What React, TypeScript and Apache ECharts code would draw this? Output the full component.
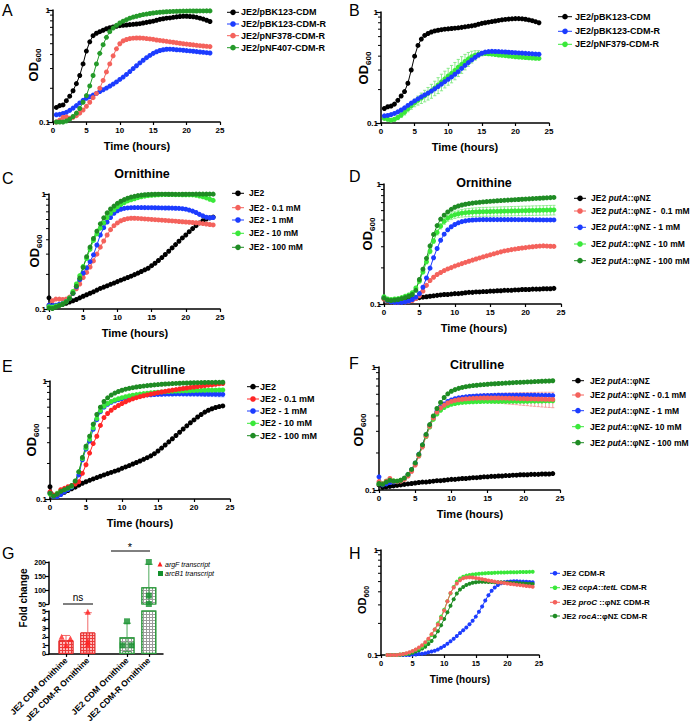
import React, { useEffect, useRef } from "react";
import * as echarts from "echarts";

const FONT = '"Liberation Sans", Arial, Helvetica, sans-serif';
const W = 696;
const H = 725;

// ---------------- time points ----------------
const T_AB = [0.5,1,1.5,2,2.5,3,3.5,4,4.5,5,5.5,6,6.5,7,7.5,8,8.5,9,9.5,10,10.5,11,11.5,12,12.5,13,13.5,14,14.5,15,15.5,16,16.5,17,17.5,18,18.5,19,19.5,20,20.5,21,21.5,22,22.5,23,23.5];
const T_CF = [0,0.5,1,1.5,2,2.5,3,3.5,4,4.5,5,5.5,6,6.5,7,7.5,8,8.5,9,9.5,10,10.5,11,11.5,12,12.5,13,13.5,14,14.5,15,15.5,16,16.5,17,17.5,18,18.5,19,19.5,20,20.5,21,21.5,22,22.5,23,23.5,24];
const T_H = [1,1.5,2,2.5,3,3.5,4,4.5,5,5.5,6,6.5,7,7.5,8,8.5,9,9.5,10,10.5,11,11.5,12,12.5,13,13.5,14,14.5,15,15.5,16,16.5,17,17.5,18,18.5,19,19.5,20,20.5,21,21.5,22,22.5,23,23.5,24];
const MINOR_TICKS = [0.2, 0.3, 0.4, 0.5, 0.6, 0.7, 0.8, 0.9];

// ---------------- panel A ----------------
const A_BK123_CDM = [0.135,0.14,0.142,0.155,0.17,0.19,0.22,0.26,0.33,0.43,
  0.52,0.59,0.62,0.64,0.66,0.68,0.695,0.705,0.715,0.725,
  0.73,0.735,0.74,0.745,0.75,0.755,0.765,0.775,0.785,0.795,
  0.81,0.825,0.835,0.845,0.85,0.86,0.868,0.875,0.88,0.88,
  0.875,0.87,0.86,0.845,0.83,0.81,0.79];
const A_BK123_CDMR = [0.116,0.117,0.119,0.122,0.127,0.133,0.14,0.148,0.156,0.163,
  0.168,0.174,0.18,0.187,0.194,0.201,0.209,0.218,0.228,0.24,
  0.252,0.266,0.282,0.3,0.318,0.337,0.356,0.375,0.393,0.41,
  0.424,0.435,0.442,0.446,0.447,0.445,0.442,0.44,0.437,0.434,
  0.431,0.428,0.425,0.422,0.419,0.416,0.413];
const A_NF378_CDMR = [0.1,0.104,0.11,0.111,0.108,0.11,0.114,0.12,0.128,0.138,
  0.15,0.165,0.18,0.2,0.235,0.28,0.33,0.39,0.45,0.5,
  0.53,0.545,0.555,0.56,0.562,0.562,0.56,0.556,0.552,0.547,
  0.54,0.535,0.53,0.525,0.52,0.515,0.51,0.505,0.5,0.496,
  0.492,0.488,0.484,0.48,0.477,0.474,0.471];
const A_NF407_CDMR = [0.1,0.1,0.1,0.102,0.106,0.112,0.12,0.132,0.15,0.172,
  0.21,0.26,0.33,0.41,0.49,0.57,0.64,0.69,0.73,0.765,
  0.795,0.82,0.845,0.865,0.88,0.895,0.91,0.92,0.93,0.94,
  0.948,0.955,0.96,0.965,0.968,0.971,0.973,0.975,0.977,0.978,
  0.979,0.98,0.98,0.981,0.981,0.982,0.982];

// ---------------- panel B ----------------
const B_BK123_CDM = [0.135,0.14,0.142,0.148,0.16,0.175,0.192,0.228,0.3,0.4,
  0.5,0.57,0.615,0.64,0.66,0.675,0.685,0.693,0.7,0.705,
  0.71,0.715,0.72,0.727,0.735,0.743,0.75,0.76,0.775,0.79,
  0.8,0.81,0.82,0.83,0.84,0.85,0.857,0.863,0.868,0.872,
  0.872,0.868,0.86,0.848,0.835,0.818,0.8];
const B_BK123_CDMR = [0.116,0.117,0.119,0.122,0.126,0.131,0.137,0.144,0.151,0.158,
  0.165,0.172,0.179,0.186,0.194,0.203,0.213,0.224,0.236,0.248,
  0.26,0.275,0.29,0.31,0.33,0.35,0.37,0.39,0.41,0.425,
  0.435,0.44,0.442,0.441,0.44,0.438,0.436,0.434,0.432,0.43,
  0.428,0.426,0.424,0.422,0.42,0.418,0.416];
const B_NF379_CDMR = [0.11,0.108,0.106,0.108,0.112,0.118,0.125,0.134,0.143,0.152,
  0.16,0.168,0.176,0.185,0.195,0.207,0.22,0.235,0.25,0.265,
  0.28,0.298,0.318,0.338,0.358,0.378,0.395,0.408,0.418,0.422,
  0.422,0.42,0.417,0.414,0.41,0.407,0.404,0.401,0.398,0.395,
  0.393,0.391,0.389,0.387,0.385,0.383,0.382];
const B_NF379_SD = [0.003,0.003,0.003,0.004,0.005,0.006,0.007,0.008,0.01,0.012,
  0.015,0.018,0.021,0.024,0.028,0.031,0.036,0.04,0.043,0.046,
  0.05,0.053,0.056,0.058,0.057,0.054,0.048,0.04,0.03,0.02,
  0.013,0.01,0.009,0.008,0.008,0.008,0.008,0.008,0.008,0.008,
  0.008,0.008,0.008,0.008,0.008,0.008,0.008];

// ---------------- panel C (ornithine, JE2) ----------------
const C_JE2 = [0.125,0.107,0.106,0.108,0.11,0.112,0.115,0.118,0.121,0.125,
  0.129,0.133,0.137,0.141,0.146,0.151,0.155,0.159,0.164,0.168,
  0.173,0.178,0.183,0.188,0.193,0.199,0.205,0.212,0.219,0.226,
  0.238,0.25,0.264,0.28,0.298,0.318,0.34,0.363,0.388,0.415,
  0.44,0.47,0.5,0.53,0.56,0.585,0.605,0.62,0.63];
const C_01 = [0.108,0.118,0.122,0.122,0.121,0.122,0.127,0.137,0.15,0.165,
  0.188,0.208,0.232,0.262,0.3,0.345,0.39,0.44,0.49,0.53,
  0.56,0.585,0.6,0.61,0.615,0.615,0.613,0.61,0.607,0.604,
  0.601,0.598,0.595,0.592,0.589,0.586,0.583,0.58,0.577,0.574,
  0.571,0.568,0.565,0.562,0.558,0.553,0.548,0.543,0.538];
const C_1 = [0.108,0.107,0.108,0.11,0.112,0.116,0.124,0.137,0.156,0.18,
  0.205,0.228,0.258,0.296,0.36,0.44,0.51,0.57,0.625,0.68,
  0.715,0.737,0.75,0.757,0.76,0.762,0.762,0.762,0.761,0.76,
  0.76,0.759,0.758,0.757,0.756,0.755,0.754,0.752,0.75,0.745,
  0.738,0.725,0.71,0.69,0.665,0.645,0.628,0.622,0.625];
const C_10 = [0.105,0.104,0.106,0.108,0.111,0.116,0.125,0.142,0.165,0.195,
  0.235,0.275,0.33,0.395,0.45,0.505,0.56,0.625,0.68,0.73,
  0.775,0.81,0.84,0.87,0.89,0.91,0.93,0.945,0.958,0.968,
  0.975,0.98,0.985,0.988,0.99,0.99,0.99,0.988,0.986,0.985,
  0.985,0.985,0.983,0.975,0.96,0.945,0.925,0.9,0.88];
const C_100 = [0.102,0.101,0.104,0.107,0.11,0.115,0.123,0.137,0.158,0.185,
  0.23,0.285,0.345,0.41,0.475,0.55,0.62,0.685,0.74,0.785,
  0.83,0.865,0.895,0.92,0.94,0.955,0.968,0.978,0.985,0.99,
  0.993,0.995,0.996,0.996,0.996,0.995,0.995,0.994,0.994,0.995,
  0.995,0.996,0.996,0.997,0.997,0.997,0.997,0.997,0.997];

// ---------------- panel D (ornithine, putA) ----------------
const D_PUTA = [0.111,0.106,0.104,0.105,0.106,0.107,0.108,0.109,0.11,0.111,
  0.113,0.114,0.115,0.116,0.117,0.118,0.119,0.12,0.12,0.121,
  0.122,0.122,0.123,0.124,0.125,0.125,0.126,0.126,0.127,0.127,
  0.128,0.128,0.129,0.129,0.13,0.13,0.13,0.131,0.131,0.132,
  0.132,0.132,0.133,0.133,0.133,0.134,0.134,0.134,0.135];
const D_01 = [0.11,0.106,0.104,0.103,0.103,0.104,0.104,0.105,0.107,0.111,
  0.117,0.128,0.143,0.157,0.167,0.176,0.183,0.19,0.196,0.201,
  0.207,0.212,0.217,0.222,0.227,0.232,0.237,0.242,0.247,0.252,
  0.257,0.262,0.267,0.272,0.277,0.28,0.284,0.287,0.29,0.293,
  0.295,0.298,0.3,0.302,0.304,0.305,0.304,0.303,0.302];
const D_1 = [0.114,0.107,0.104,0.103,0.103,0.103,0.104,0.106,0.109,0.114,
  0.122,0.138,0.165,0.199,0.243,0.29,0.34,0.382,0.415,0.44,
  0.46,0.475,0.486,0.493,0.498,0.501,0.503,0.504,0.505,0.505,
  0.505,0.505,0.505,0.505,0.505,0.505,0.505,0.505,0.504,0.504,
  0.504,0.504,0.503,0.503,0.503,0.502,0.502,0.502,0.502];
const D_10 = [0.115,0.11,0.109,0.11,0.111,0.113,0.116,0.119,0.124,0.136,
  0.155,0.185,0.225,0.275,0.335,0.395,0.445,0.488,0.52,0.54,
  0.555,0.565,0.572,0.577,0.58,0.583,0.585,0.587,0.588,0.589,
  0.59,0.591,0.592,0.593,0.594,0.595,0.596,0.597,0.598,0.599,
  0.6,0.601,0.602,0.603,0.604,0.605,0.606,0.607,0.608];
const D_10_SD = [0.002,0.002,0.002,0.002,0.002,0.002,0.002,0.003,0.003,0.004,
  0.005,0.007,0.009,0.012,0.015,0.019,0.023,0.027,0.031,0.035,
  0.038,0.04,0.042,0.044,0.046,0.047,0.048,0.049,0.05,0.05,
  0.05,0.051,0.051,0.052,0.052,0.052,0.053,0.053,0.053,0.054,
  0.054,0.054,0.055,0.055,0.055,0.055,0.056,0.056,0.056];
const D_100 = [0.112,0.108,0.107,0.108,0.109,0.111,0.113,0.116,0.12,0.13,
  0.16,0.195,0.24,0.305,0.38,0.45,0.51,0.55,0.585,0.615,
  0.64,0.656,0.668,0.678,0.686,0.693,0.699,0.704,0.709,0.713,
  0.717,0.721,0.725,0.728,0.731,0.734,0.737,0.74,0.743,0.746,
  0.749,0.752,0.755,0.758,0.761,0.764,0.767,0.77,0.773];

// ---------------- panel E (citrulline, JE2) ----------------
const E_JE2 = [0.127,0.106,0.107,0.11,0.114,0.118,0.122,0.126,0.131,0.136,
  0.14,0.144,0.148,0.152,0.156,0.16,0.164,0.168,0.172,0.176,
  0.182,0.187,0.192,0.198,0.204,0.21,0.217,0.224,0.232,0.242,
  0.255,0.27,0.287,0.305,0.324,0.345,0.368,0.392,0.417,0.443,
  0.468,0.495,0.52,0.545,0.565,0.582,0.596,0.607,0.615];
const E_01 = [0.115,0.108,0.11,0.12,0.123,0.127,0.13,0.134,0.14,0.165,
  0.195,0.245,0.295,0.34,0.42,0.49,0.53,0.565,0.595,0.62,
  0.645,0.667,0.688,0.706,0.722,0.737,0.75,0.762,0.774,0.785,
  0.796,0.807,0.817,0.827,0.837,0.846,0.855,0.864,0.873,0.882,
  0.89,0.898,0.906,0.914,0.922,0.93,0.938,0.946,0.953];
const E_1 = [0.113,0.105,0.105,0.109,0.115,0.12,0.126,0.136,0.16,0.215,
  0.265,0.31,0.39,0.47,0.55,0.6,0.635,0.66,0.68,0.695,
  0.71,0.722,0.732,0.74,0.747,0.753,0.758,0.762,0.765,0.768,
  0.77,0.772,0.774,0.775,0.776,0.777,0.778,0.778,0.778,0.778,
  0.778,0.778,0.777,0.776,0.775,0.774,0.773,0.772,0.771];
const E_1_SD = [0.003,0.003,0.003,0.003,0.003,0.003,0.003,0.004,0.005,0.006,
  0.007,0.008,0.01,0.011,0.012,0.012,0.012,0.012,0.012,0.012,
  0.012,0.012,0.012,0.012,0.013,0.013,0.013,0.014,0.014,0.015,
  0.016,0.017,0.018,0.02,0.022,0.024,0.026,0.028,0.03,0.031,
  0.032,0.033,0.034,0.035,0.035,0.036,0.036,0.037,0.037];
const E_10 = [0.11,0.108,0.112,0.118,0.12,0.124,0.128,0.14,0.17,0.22,
  0.27,0.32,0.4,0.48,0.56,0.61,0.645,0.67,0.69,0.707,
  0.722,0.736,0.748,0.758,0.767,0.775,0.782,0.788,0.794,0.799,
  0.804,0.808,0.812,0.815,0.818,0.821,0.823,0.825,0.827,0.829,
  0.831,0.833,0.834,0.835,0.836,0.837,0.838,0.839,0.84];
const E_100 = [0.112,0.106,0.11,0.116,0.12,0.124,0.13,0.142,0.17,0.225,
  0.28,0.34,0.43,0.52,0.6,0.67,0.72,0.76,0.79,0.815,
  0.835,0.852,0.866,0.878,0.889,0.898,0.906,0.914,0.921,0.927,
  0.933,0.938,0.943,0.947,0.951,0.954,0.957,0.96,0.962,0.964,
  0.966,0.968,0.97,0.971,0.972,0.973,0.974,0.975,0.976];

// ---------------- panel F (citrulline, putA) ----------------
const F_PUTA = [0.11,0.105,0.106,0.107,0.108,0.109,0.11,0.111,0.112,0.113,
  0.114,0.115,0.116,0.116,0.117,0.118,0.119,0.119,0.12,0.121,
  0.122,0.122,0.123,0.124,0.124,0.125,0.126,0.126,0.127,0.128,
  0.128,0.129,0.129,0.13,0.13,0.131,0.131,0.132,0.132,0.133,
  0.133,0.133,0.134,0.134,0.134,0.135,0.135,0.135,0.136];
const F_01 = [0.117,0.112,0.118,0.124,0.118,0.117,0.118,0.122,0.13,0.142,
  0.16,0.19,0.225,0.275,0.33,0.385,0.43,0.465,0.49,0.51,
  0.525,0.535,0.542,0.547,0.551,0.554,0.556,0.558,0.559,0.56,
  0.56,0.56,0.56,0.56,0.559,0.558,0.557,0.556,0.555,0.554,
  0.553,0.552,0.551,0.55,0.549,0.548,0.547,0.546,0.545];
const F_01_SD = [0.003,0.003,0.003,0.003,0.003,0.003,0.003,0.003,0.004,0.005,
  0.006,0.008,0.01,0.012,0.014,0.016,0.018,0.02,0.022,0.024,
  0.026,0.028,0.03,0.033,0.035,0.036,0.038,0.041,0.042,0.044,
  0.046,0.047,0.05,0.052,0.053,0.056,0.058,0.06,0.061,0.064,
  0.066,0.067,0.07,0.071,0.073,0.075,0.076,0.077,0.078];
const F_1 = [0.128,0.11,0.112,0.115,0.116,0.117,0.119,0.124,0.133,0.146,
  0.165,0.195,0.232,0.28,0.335,0.39,0.435,0.47,0.5,0.525,
  0.54,0.552,0.561,0.567,0.572,0.576,0.579,0.581,0.583,0.585,
  0.586,0.587,0.588,0.589,0.59,0.59,0.59,0.59,0.59,0.59,
  0.59,0.59,0.589,0.589,0.588,0.588,0.587,0.587,0.586];
const F_10 = [0.112,0.113,0.118,0.121,0.119,0.118,0.12,0.124,0.132,0.145,
  0.163,0.19,0.226,0.272,0.325,0.375,0.415,0.445,0.468,0.485,
  0.497,0.505,0.511,0.515,0.518,0.52,0.522,0.523,0.524,0.525,
  0.525,0.525,0.525,0.525,0.525,0.525,0.525,0.526,0.526,0.526,
  0.527,0.527,0.528,0.528,0.529,0.529,0.53,0.53,0.531];
const F_100 = [0.113,0.111,0.116,0.12,0.118,0.118,0.12,0.125,0.134,0.147,
  0.166,0.195,0.233,0.283,0.34,0.4,0.46,0.515,0.565,0.605,
  0.635,0.655,0.67,0.682,0.692,0.7,0.706,0.711,0.716,0.72,
  0.724,0.728,0.731,0.734,0.737,0.74,0.743,0.746,0.749,0.751,
  0.753,0.756,0.758,0.761,0.763,0.766,0.768,0.77,0.773];

// ---------------- panel H ----------------
const H_JE2 = [0.1,0.1,0.1,0.1,0.1,0.1,0.1,0.1,0.101,0.101,
  0.102,0.103,0.104,0.106,0.108,0.11,0.113,0.117,0.122,0.128,
  0.135,0.143,0.152,0.162,0.172,0.183,0.196,0.212,0.232,0.258,
  0.29,0.33,0.37,0.41,0.44,0.465,0.482,0.493,0.499,0.502,
  0.503,0.503,0.502,0.5,0.498,0.495,0.492];
const H_CCPA = [0.1,0.1,0.1,0.1,0.101,0.102,0.103,0.105,0.108,0.112,
  0.115,0.12,0.128,0.14,0.155,0.175,0.2,0.232,0.27,0.325,
  0.385,0.445,0.5,0.535,0.557,0.57,0.578,0.584,0.589,0.593,
  0.597,0.6,0.603,0.605,0.607,0.609,0.61,0.611,0.612,0.613,
  0.614,0.615,0.616,0.617,0.618,0.619,0.62];
const H_PROC = [0.1,0.1,0.1,0.1,0.101,0.102,0.104,0.106,0.109,0.113,
  0.118,0.124,0.132,0.143,0.158,0.175,0.195,0.225,0.265,0.325,
  0.39,0.44,0.48,0.515,0.537,0.547,0.55,0.548,0.542,0.535,
  0.528,0.52,0.513,0.506,0.5,0.494,0.489,0.484,0.479,0.475,
  0.471,0.467,0.463,0.459,0.455,0.451,0.447];
const H_ROCA = [0.1,0.1,0.1,0.1,0.1,0.101,0.102,0.103,0.105,0.108,
  0.111,0.115,0.12,0.127,0.136,0.15,0.168,0.192,0.22,0.255,
  0.295,0.34,0.385,0.42,0.445,0.465,0.478,0.488,0.494,0.497,
  0.498,0.497,0.496,0.495,0.494,0.493,0.492,0.49,0.489,0.487,
  0.486,0.484,0.482,0.48,0.478,0.476,0.474];

// ---------------- panel G (qPCR fold change) ----------------
const G_CATEGORIES = ["JE2 CDM Ornithine", "JE2 CDM-R Ornithine", "JE2 CDM Ornithine", "JE2 CDM-R Ornithine"];
const G_MEAN = [1.6, 2.5, 1.93, 110];
const G_SD = [0.55, 2.3, 1.65, 82];
const G_POINTS = [[2.0, 1.8, 1.0], [4.9, 1.5, 1.1], [3.8, 1.0, 1.0], [200, 80, 50]];
const G_GENES = ["argF transcript", "arcB1 transcript"];

// ---------------- colours ----------------
const BLACK = "#000000";
const BLUE = "#1c3cff";
const SALMON = "#f4625c";
const RED = "#ff2626";
const LIME = "#3ae83a";
const DKGREEN = "#1f8c24";
const AGREEN = "#259a2a";

// ---------------- layout (positions only) ----------------
type Curve = { label: string; color: string; values: number[]; sd?: number[]; sdColor?: string };
type Panel = {
  letter: string; lx: number; ly: number;
  grid: { left: number; top: number; width: number; height: number };
  t: number[]; curves: Curve[]; sym: number; tickFont: number;
  title?: { text: string; x: number; y: number };
  time: { x: number; y: number; size: number };
  od: { x: number; y: number; size: number; sub: number };
  legend: { mx: number; tx: number; ys: number[]; size: number; half: number };
};

const PANELS: Panel[] = [
  {
    letter: "A", lx: 2, ly: 2, grid: { left: 53, top: 10, width: 167, height: 112 }, t: T_AB, sym: 5, tickFont: 8,
    curves: [
      { label: "JE2/pBK123-CDM", color: BLACK, values: A_BK123_CDM },
      { label: "JE2/pBK123-CDM-R", color: BLUE, values: A_BK123_CDMR },
      { label: "JE2/pNF378-CDM-R", color: SALMON, values: A_NF378_CDMR },
      { label: "JE2/pNF407-CDM-R", color: AGREEN, values: A_NF407_CDMR },
    ],
    time: { x: 137, y: 146, size: 11 }, od: { x: 33, y: 65, size: 13, sub: 8 },
    legend: { mx: 233, tx: 241, ys: [12.3, 24, 35.7, 47.7], size: 9, half: 6 },
  },
  {
    letter: "B", lx: 349, ly: 2, grid: { left: 381, top: 12, width: 168, height: 111 }, t: T_AB, sym: 5, tickFont: 8,
    curves: [
      { label: "JE2/pBK123-CDM", color: BLACK, values: B_BK123_CDM },
      { label: "JE2/pNF379-CDM-R", color: LIME, values: B_NF379_CDMR, sd: B_NF379_SD, sdColor: "#7fe87f" },
      { label: "JE2/pBK123-CDM-R", color: BLUE, values: B_BK123_CDMR },
    ],
    time: { x: 465, y: 147, size: 11 }, od: { x: 363, y: 68, size: 13, sub: 8 },
    legend: { mx: 565, tx: 575, ys: [16.7, 31.3, 44.3], size: 9, half: 7 },
  },
  {
    letter: "C", lx: 2, ly: 170, grid: { left: 49, top: 194, width: 171, height: 115 }, t: T_CF, sym: 5, tickFont: 8,
    title: { text: "Ornithine", x: 142, y: 174 },
    curves: [
      { label: "JE2", color: BLACK, values: C_JE2 },
      { label: "JE2 - 0.1 mM", color: SALMON, values: C_01 },
      { label: "JE2 - 1 mM", color: BLUE, values: C_1 },
      { label: "JE2 - 10 mM", color: LIME, values: C_10 },
      { label: "JE2 - 100 mM", color: DKGREEN, values: C_100 },
    ],
    time: { x: 135, y: 333, size: 11 }, od: { x: 34, y: 251, size: 13, sub: 8 },
    legend: { mx: 238, tx: 249, ys: [193.3, 207.7, 220, 233.3, 247.3], size: 8.5, half: 6 },
  },
  {
    letter: "D", lx: 349, ly: 168, grid: { left: 384, top: 184, width: 177, height: 120 }, t: T_CF, sym: 5, tickFont: 8,
    title: { text: "Ornithine", x: 484, y: 182.5 },
    curves: [
      { label: "JE2 *putA*::φNΣ", color: BLACK, values: D_PUTA },
      { label: "JE2 *putA*::φNΣ -  0.1 mM", color: SALMON, values: D_01 },
      { label: "JE2 *putA*::φNΣ - 1 mM", color: BLUE, values: D_1 },
      { label: "JE2 *putA*::φNΣ - 10 mM", color: LIME, values: D_10, sd: D_10_SD, sdColor: "#86ec86" },
      { label: "JE2 *putA*::φNΣ - 100 mM", color: DKGREEN, values: D_100 },
    ],
    time: { x: 474, y: 328, size: 11 }, od: { x: 367, y: 234, size: 13, sub: 8 },
    legend: { mx: 580, tx: 591, ys: [198.3, 211, 227.3, 244, 260.7], size: 8.5, half: 6 },
  },
  {
    letter: "E", lx: 2, ly: 358, grid: { left: 50, top: 381, width: 180, height: 118 }, t: T_CF, sym: 5, tickFont: 8,
    title: { text: "Citrulline", x: 158, y: 370 },
    curves: [
      { label: "JE2", color: BLACK, values: E_JE2 },
      { label: "JE2 - 1 mM", color: BLUE, values: E_1, sd: E_1_SD, sdColor: "#8aa0ff" },
      { label: "JE2 - 10 mM", color: LIME, values: E_10 },
      { label: "JE2 - 0.1 mM", color: RED, values: E_01 },
      { label: "JE2 - 100 mM", color: DKGREEN, values: E_100 },
    ],
    time: { x: 140, y: 523, size: 11 }, od: { x: 31, y: 440, size: 13, sub: 8 },
    legend: { mx: 253, tx: 260, ys: [386.7, 399, 411, 423.3, 435.7], size: 9, half: 6 },
  },
  {
    letter: "F", lx: 349, ly: 355, grid: { left: 379, top: 367, width: 181, height: 123 }, t: T_CF, sym: 5, tickFont: 8,
    title: { text: "Citrulline", x: 477, y: 365 },
    curves: [
      { label: "JE2 *putA*::φNΣ", color: BLACK, values: F_PUTA },
      { label: "JE2 *putA*::φNΣ- 10 mM", color: LIME, values: F_10 },
      { label: "JE2 *putA*::φNΣ - 1 mM", color: BLUE, values: F_1 },
      { label: "JE2 *putA*::φNΣ - 0.1 mM", color: SALMON, values: F_01, sd: F_01_SD, sdColor: "#f59a9a" },
      { label: "JE2 *putA*::φNΣ - 100 mM", color: DKGREEN, values: F_100 },
    ],
    time: { x: 470, y: 514, size: 11 }, od: { x: 358, y: 430, size: 13, sub: 8 },
    legend: { mx: 578, tx: 590, ys: [380.7, 395, 410.7, 426.7, 442.7], size: 8.5, half: 6 },
  },
  {
    letter: "H", lx: 349, ly: 545, grid: { left: 381, top: 550, width: 158, height: 105 }, t: T_H, sym: 4, tickFont: 7.5,
    curves: [
      { label: "JE2 CDM-R", color: BLUE, values: H_JE2 },
      { label: "JE2 *rocA*::φNΣ CDM-R", color: DKGREEN, values: H_ROCA },
      { label: "JE2 *ccpA*::*tetL* CDM-R", color: LIME, values: H_CCPA },
      { label: "JE2 *proC* ::φNΣ CDM-R", color: SALMON, values: H_PROC },
    ],
    time: { x: 460, y: 679, size: 10 }, od: { x: 362, y: 600, size: 11, sub: 7 },
    legend: { mx: 555, tx: 562, ys: [573.3, 587.7, 602.3, 616], size: 8, half: 5 },
  },
];
// legend order differs from drawing order for some panels
const LEGEND_ORDER: Record<string, string[]> = {
  B: ["JE2/pBK123-CDM", "JE2/pBK123-CDM-R", "JE2/pNF379-CDM-R"],
  E: ["JE2", "JE2 - 0.1 mM", "JE2 - 1 mM", "JE2 - 10 mM", "JE2 - 100 mM"],
  F: ["JE2 *putA*::φNΣ", "JE2 *putA*::φNΣ - 0.1 mM", "JE2 *putA*::φNΣ - 1 mM", "JE2 *putA*::φNΣ- 10 mM", "JE2 *putA*::φNΣ - 100 mM"],
  H: ["JE2 CDM-R", "JE2 *ccpA*::*tetL* CDM-R", "JE2 *proC* ::φNΣ CDM-R", "JE2 *rocA*::φNΣ CDM-R"],
};

// G layout
const G_POS = [0, 1, 2.8, 3.8];
const G_JITTER = [[-0.2, 0.2, 0], [0, 0, 0], [0, -0.2, 0.2], [0, 0, 0]];
const G_XMIN = -0.78;
const G_XMAX = 4.45;

function richLabel(label: string) {
  return label
    .split("*")
    .map((s, i) => (s ? `{${i % 2 ? "i" : "n"}|${s}}` : ""))
    .join("");
}

function textEl(x: number, y: number, text: string, style: any, extra: any = {}) {
  return {
    type: "text", x, y, silent: true, ...extra,
    style: { text, fill: "#000", fontFamily: FONT, align: "center", verticalAlign: "middle", ...style },
  };
}

function odLabel(x: number, y: number, size: number, sub: number) {
  return textEl(x, y, "{a|OD}{b|600}", {
    rich: {
      a: { fontSize: size, fontWeight: "bold", fontFamily: FONT, lineHeight: size + 5 },
      b: { fontSize: sub, fontWeight: "bold", fontFamily: FONT, lineHeight: sub + 1, verticalAlign: "bottom" },
    },
  }, { rotation: Math.PI / 2 });
}

function minorTickRender(params: any, api: any) {
  const p = api.coord([0, api.value(1)]);
  return { type: "line", shape: { x1: p[0] - 3, y1: p[1], x2: p[0], y2: p[1] }, style: { stroke: "#000", lineWidth: 1 } };
}

function errorRender(color: string, cap: number, floor: number) {
  return (params: any, api: any) => {
    const x = api.value(0), v = api.value(1), sd = api.value(2);
    const hi = api.coord([x, v + sd]);
    const lo = api.coord([x, Math.max(v - sd, floor)]);
    const st = { stroke: color, lineWidth: 0.9 };
    return {
      type: "group",
      children: [
        { type: "line", shape: { x1: hi[0], y1: hi[1], x2: lo[0], y2: lo[1] }, style: st },
        { type: "line", shape: { x1: hi[0] - cap, y1: hi[1], x2: hi[0] + cap, y2: hi[1] }, style: st },
        { type: "line", shape: { x1: lo[0] - cap, y1: lo[1], x2: lo[0] + cap, y2: lo[1] }, style: st },
      ],
    };
  };
}

const AXIS_LINE = { show: true, onZero: false, lineStyle: { color: "#000", width: 1.5 } };

function buildOption() {
  const grid: any[] = [];
  const xAxis: any[] = [];
  const yAxis: any[] = [];
  const series: any[] = [];
  const graphic: any[] = [];

  PANELS.forEach((p, i) => {
    grid.push({ ...p.grid });
    xAxis.push({
      type: "value", gridIndex: i, min: 0, max: 25, interval: 5,
      axisLine: AXIS_LINE,
      axisTick: { show: true, length: 3, lineStyle: { color: "#000", width: 1.2 } },
      axisLabel: { fontSize: p.tickFont, fontWeight: "bold", color: "#000", fontFamily: FONT, margin: 4 },
      splitLine: { show: false },
    });
    yAxis.push({
      type: "log", logBase: 10, gridIndex: i, min: 0.1, max: 1,
      axisLine: AXIS_LINE,
      axisTick: { show: true, length: 5, lineStyle: { color: "#000", width: 1.2 } },
      axisLabel: {
        fontSize: p.tickFont, fontWeight: "bold", color: "#000", fontFamily: FONT, margin: 3,
        formatter: (v: number) => (v < 0.5 ? "0.1" : "1"),
      },
      splitLine: { show: false },
    });
    series.push({
      type: "custom", xAxisIndex: i, yAxisIndex: i, silent: true, clip: false, z: 4,
      data: MINOR_TICKS.map((v) => [0, v]), renderItem: minorTickRender,
    });
    p.curves.forEach((c) => {
      if (c.sd) {
        const sd = c.sd;
        series.push({
          type: "custom", xAxisIndex: i, yAxisIndex: i, silent: true, clip: true, z: 1,
          data: c.values.map((v, k) => [p.t[k], v, sd[k]]),
          renderItem: errorRender(c.sdColor || c.color, 1.6, 0.1),
        });
      }
      series.push({
        type: "line", name: c.label.replace(/\*/g, ""), xAxisIndex: i, yAxisIndex: i,
        data: c.values.map((v, k) => [p.t[k], v]),
        symbol: "circle", symbolSize: p.sym, showSymbol: true, showAllSymbol: true, clip: false,
        lineStyle: { color: c.color, width: 1 }, itemStyle: { color: c.color, borderWidth: 0 },
        z: 2, silent: true,
      });
    });

    // letter, title, axis titles
    graphic.push(textEl(p.lx, p.ly, p.letter, { fontSize: 16, align: "left", verticalAlign: "top" }));
    if (p.title) graphic.push(textEl(p.title.x, p.title.y, p.title.text, { fontSize: 12.5, fontWeight: "bold" }));
    graphic.push(textEl(p.time.x, p.time.y, "Time (hours)", { fontSize: p.time.size, fontWeight: "bold" }));
    graphic.push(odLabel(p.od.x, p.od.y, p.od.size, p.od.sub));

    // legend
    const order = LEGEND_ORDER[p.letter] || p.curves.map((c) => c.label);
    order.forEach((lab, k) => {
      const c = p.curves.find((cc) => cc.label === lab)!;
      const y = p.legend.ys[k];
      const L = p.legend;
      graphic.push({ type: "line", silent: true, shape: { x1: L.mx - L.half, y1: y, x2: L.mx + L.half, y2: y }, style: { stroke: c.color, lineWidth: 1 } });
      graphic.push({ type: "circle", silent: true, shape: { cx: L.mx, cy: y, r: p.sym / 2 + 0.3 }, style: { fill: c.color } });
      graphic.push(textEl(L.tx, y, richLabel(lab), {
        align: "left",
        rich: {
          n: { fontSize: L.size, fontWeight: "bold", fontFamily: FONT },
          i: { fontSize: L.size, fontWeight: "bold", fontStyle: "italic", fontFamily: FONT },
        },
      }));
    });
  });

  // ---------- panel G ----------
  const gU = PANELS.length; // upper (broken) part
  const gL = gU + 1; // lower part
  grid.push({ left: 49, top: 562, width: 114, height: 42 });
  grid.push({ left: 49, top: 611, width: 114, height: 45 });
  xAxis.push({ type: "value", gridIndex: gU, min: G_XMIN, max: G_XMAX, show: false });
  xAxis.push({
    type: "value", gridIndex: gL, min: G_XMIN, max: G_XMAX,
    axisLine: AXIS_LINE,
    axisTick: { show: true, customValues: G_POS, length: 3, lineStyle: { color: "#000", width: 1.2 } },
    axisLabel: {
      customValues: G_POS, rotate: 45, fontSize: 8.5, fontWeight: "bold", color: "#000", fontFamily: FONT, margin: 5,
      formatter: (v: number) => {
        const idx = G_POS.findIndex((q) => Math.abs(q - v) < 0.01);
        return idx >= 0 ? G_CATEGORIES[idx] : "";
      },
    },
    splitLine: { show: false },
  });
  const gY = (idx: number, min: number, max: number, interval: number) => ({
    type: "value", gridIndex: idx, min, max, interval,
    axisLine: AXIS_LINE,
    axisTick: { show: true, length: 4, lineStyle: { color: "#000", width: 1.2 } },
    axisLabel: { fontSize: 7, lineHeight: 7, fontWeight: "bold", color: "#000", fontFamily: FONT, margin: 3 },
    splitLine: { show: false },
  });
  yAxis.push(gY(gU, 50, 200, 50));
  yAxis.push(gY(gL, 0, 5, 1));

  const barStyle = (i: number) =>
    i < 2
      ? {
          color: "#ec3a3a", borderColor: "#e53030", borderWidth: 1,
          decal: { symbol: "rect", symbolSize: 1, color: "rgba(255,200,200,0.92)", dashArrayX: [2, 1], dashArrayY: [2, 1], rotation: 0 },
        }
      : {
          color: "#9c9c9c", borderColor: "#2f9a3f", borderWidth: 1.2,
          decal: { symbol: "rect", symbolSize: 1, color: "#ffffff", dashArrayX: [2, 1], dashArrayY: [2, 1], rotation: 0 },
        };

  series.push({
    type: "bar", xAxisIndex: gL, yAxisIndex: gL, barWidth: 15, clip: true, silent: true, z: 2,
    data: G_MEAN.map((m, i) => ({ value: [G_POS[i], m], itemStyle: barStyle(i) })),
  });
  series.push({
    type: "bar", xAxisIndex: gU, yAxisIndex: gU, barWidth: 15, clip: true, silent: true, z: 2,
    data: [{ value: [G_POS[3], G_MEAN[3]], itemStyle: barStyle(3) }],
  });
  const gErrColor = (i: number) => (i < 2 ? "#f05a5a" : "#3aa04a");
  [0, 1, 2].forEach((i) => {
    series.push({
      type: "custom", xAxisIndex: gL, yAxisIndex: gL, silent: true, clip: true, z: 3,
      data: [[G_POS[i], G_MEAN[i], G_SD[i]]], renderItem: errorRender(gErrColor(i), 4, 0),
    });
  });
  series.push({
    type: "custom", xAxisIndex: gU, yAxisIndex: gU, silent: true, clip: true, z: 3,
    data: [[G_POS[3], G_MEAN[3], G_SD[3]]], renderItem: errorRender(gErrColor(3), 4, 0),
  });
  G_POINTS.forEach((pts, i) => {
    series.push({
      type: "scatter", xAxisIndex: i === 3 ? gU : gL, yAxisIndex: i === 3 ? gU : gL, silent: true, clip: false, z: 4,
      symbol: i < 2 ? "triangle" : "rect", symbolSize: 6,
      itemStyle: { color: i < 2 ? "#ff2020" : "#13902c" },
      data: pts.map((v, k) => [G_POS[i] + G_JITTER[i][k], v]),
    });
  });
  graphic.push(textEl(2, 545, "G", { fontSize: 16, align: "left", verticalAlign: "top" }));
  graphic.push(textEl(23, 598, "Fold change", { fontSize: 10, fontWeight: "bold" }, { rotation: Math.PI / 2 }));
  // significance annotations
  graphic.push({ type: "line", silent: true, shape: { x1: 63, y1: 604, x2: 93, y2: 604 }, style: { stroke: "#000", lineWidth: 1 } });
  graphic.push(textEl(78, 597, "ns", { fontSize: 10 }));
  graphic.push({ type: "line", silent: true, shape: { x1: 111, y1: 551, x2: 150, y2: 551 }, style: { stroke: "#000", lineWidth: 1 } });
  graphic.push(textEl(130, 547, "*", { fontSize: 11 }));
  // G legend
  graphic.push({ type: "polygon", silent: true, shape: { points: [[157.5, 566.5], [162.5, 566.5], [160, 561.5]] }, style: { fill: "#ff2020" } });
  graphic.push(textEl(165, 564, G_GENES[0], { fontSize: 7, fontStyle: "italic", align: "left" }));
  graphic.push({ type: "rect", silent: true, shape: { x: 158, y: 571, width: 5, height: 5 }, style: { fill: "#13902c" } });
  graphic.push(textEl(165, 573.5, G_GENES[1], { fontSize: 7, fontStyle: "italic", align: "left" }));

  return {
    animation: false,
    backgroundColor: "#ffffff",
    textStyle: { fontFamily: FONT },
    grid, xAxis, yAxis, series, graphic,
  };
}

export default function App() {
  const ref = useRef<HTMLDivElement>(null);
  useEffect(() => {
    if (!ref.current) return;
    const chart = echarts.init(ref.current, null, { renderer: "svg" });
    chart.setOption(buildOption() as any);
    return () => chart.dispose();
  }, []);
  return (
    <div
      ref={ref}
      style={{ position: "absolute", left: 0, top: 0, width: W, height: H, background: "#fff" }}
    />
  );
}
